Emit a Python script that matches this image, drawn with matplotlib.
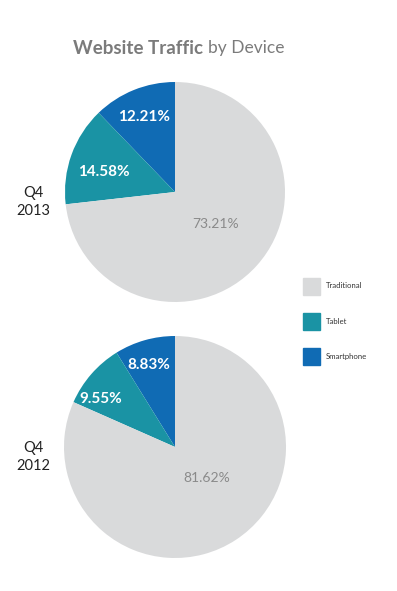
import numpy as np
import matplotlib.pyplot as plt

# --- Data ---
devices = ["Smartphone", "Tablet", "Traditional"]
q4_2013 = [12.21, 14.58, 73.21]
q4_2012 = [8.83, 9.55, 81.62]
period_labels = ["Q4\n2013", "Q4\n2012"]
legend_order = ["Traditional", "Tablet", "Smartphone"]

colors = {"Smartphone": "#106bb4", "Tablet": "#1a93a4", "Traditional": "#d9dadb"}
W, H = 397, 591
plt.rcParams['font.family'] = ['Lato', 'DejaVu Sans']

fig = plt.figure(figsize=(W / 100, H / 100), dpi=100)
fig.patch.set_facecolor('white')

# title: bold part + regular part, placed side by side
t1 = fig.text(73 / W, 1 - 48 / H, "Website Traffic", fontsize=13.5, fontweight='bold',
              color='#7b7b7b', ha='left', va='center')
fig.canvas.draw()
bb = t1.get_window_extent()
fig.text((bb.x1 + 5) / W, 1 - 48 / H, "by Device", fontsize=12.5, color='#7b7b7b',
         ha='left', va='center')

# (center x, center y, radius) in pixels, label distances, label angle tweaks
pies = [
    (q4_2013, (175, 192, 110), [0.74, 0.67, 0.47], [0, 4, 3]),
    (q4_2012, (175, 447, 111), [0.78, 0.80, 0.40], [2, 8, 12]),
]

for (vals, (cx, cy, r), dists, tweaks), plabel in zip(pies, period_labels):
    ax = fig.add_axes([(cx - r) / W, 1 - (cy + r) / H, 2 * r / W, 2 * r / H])
    wedges, _ = ax.pie(vals, colors=[colors[d] for d in devices], startangle=90,
                       counterclock=True, radius=1,
                       wedgeprops=dict(linewidth=0))
    ax.set_xlim(-1, 1)
    ax.set_ylim(-1, 1)
    ax.set_aspect('auto')
    ax.axis('off')
    for w, v, d, dev, tw in zip(wedges, vals, dists, devices, tweaks):
        ang = np.deg2rad((w.theta1 + w.theta2) / 2 + tw)
        if dev == "Traditional":
            ax.text(d * np.cos(ang), d * np.sin(ang), f"{v:.2f}%", color='#8a8a8a',
                    fontsize=10, ha='center', va='center')
        else:
            ax.text(d * np.cos(ang), d * np.sin(ang), f"{v:.2f}%", color='white',
                    fontsize=11, fontweight='bold', ha='center', va='center')
    fig.text(33 / W, 1 - (cy + 10) / H, plabel, fontsize=10.5, color='#222222',
             ha='center', va='center', linespacing=1.4)

# legend
for i, name in enumerate(legend_order):
    y = 286 + i * 35
    fig.patches.append(plt.Rectangle((303 / W, 1 - (y + 8.5) / H), 17 / W, 17 / H,
                                     transform=fig.transFigure, color=colors[name]))
    fig.text(326 / W, 1 - y / H, name, fontsize=5.6, color='#333333',
             ha='left', va='center')

plt.savefig("out.png", dpi=100)
